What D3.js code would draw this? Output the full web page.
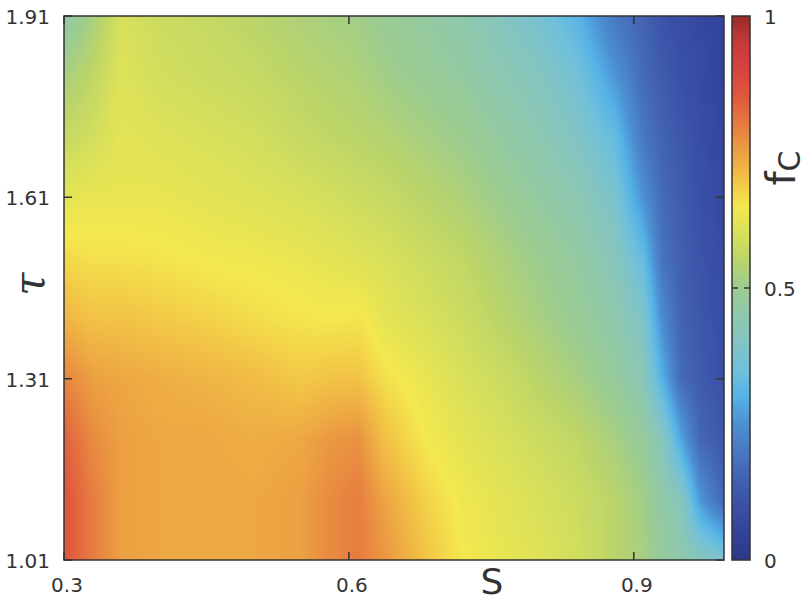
<!DOCTYPE html>
<html>
<head>
<meta charset="utf-8">
<script src="https://cdn.jsdelivr.net/npm/d3@7"></script>
<style>
  body { margin: 0; background: #fff; }
  text { font-family: "DejaVu Sans", sans-serif; fill: #333; }
</style>
</head>
<body>
<div id="chart"></div>
<script>
/* Data
============================================= */
const sValues = [0.30, 0.33, 0.36, 0.40, 0.45, 0.50, 0.55, 0.58, 0.61, 0.64, 0.68,
                 0.72, 0.76, 0.80, 0.84, 0.88, 0.91, 0.93, 0.95, 0.97, 0.995];
const tauValues = [1.01, 1.11, 1.21, 1.31, 1.41, 1.51, 1.61, 1.71, 1.81, 1.91];

// f_C for each tau row, one value per S column
const fcTau101 = [0.86, 0.80, 0.75, 0.74, 0.74, 0.74, 0.75, 0.78, 0.80, 0.76, 0.70, 0.65, 0.63, 0.61, 0.59, 0.55, 0.52, 0.48, 0.45, 0.42, 0.38];
const fcTau111 = [0.86, 0.80, 0.75, 0.74, 0.74, 0.74, 0.75, 0.78, 0.80, 0.74, 0.68, 0.64, 0.62, 0.60, 0.58, 0.55, 0.51, 0.46, 0.42, 0.26, 0.16];
const fcTau121 = [0.84, 0.78, 0.75, 0.74, 0.74, 0.73, 0.74, 0.76, 0.77, 0.70, 0.65, 0.62, 0.60, 0.58, 0.56, 0.52, 0.48, 0.42, 0.28, 0.16, 0.12];
const fcTau131 = [0.79, 0.75, 0.74, 0.73, 0.72, 0.71, 0.69, 0.70, 0.70, 0.66, 0.63, 0.60, 0.58, 0.55, 0.52, 0.48, 0.43, 0.30, 0.17, 0.13, 0.10];
const fcTau141 = [0.72, 0.70, 0.70, 0.69, 0.68, 0.665, 0.655, 0.65, 0.655, 0.62, 0.60, 0.58, 0.55, 0.52, 0.49, 0.45, 0.39, 0.24, 0.15, 0.12, 0.09];
const fcTau151 = [0.67, 0.66, 0.66, 0.655, 0.645, 0.64, 0.63, 0.62, 0.61, 0.60, 0.58, 0.56, 0.53, 0.50, 0.47, 0.42, 0.33, 0.19, 0.14, 0.11, 0.08];
const fcTau161 = [0.62, 0.63, 0.63, 0.63, 0.62, 0.61, 0.60, 0.59, 0.58, 0.57, 0.55, 0.53, 0.50, 0.47, 0.44, 0.38, 0.25, 0.17, 0.13, 0.10, 0.07];
const fcTau171 = [0.57, 0.59, 0.62, 0.61, 0.60, 0.59, 0.57, 0.56, 0.55, 0.54, 0.52, 0.50, 0.47, 0.44, 0.40, 0.33, 0.20, 0.15, 0.12, 0.09, 0.06];
const fcTau181 = [0.52, 0.56, 0.61, 0.59, 0.58, 0.57, 0.55, 0.54, 0.53, 0.51, 0.49, 0.47, 0.44, 0.41, 0.36, 0.26, 0.17, 0.13, 0.10, 0.08, 0.05];
const fcTau191 = [0.46, 0.52, 0.60, 0.58, 0.57, 0.55, 0.53, 0.52, 0.51, 0.49, 0.47, 0.45, 0.41, 0.37, 0.31, 0.20, 0.15, 0.11, 0.09, 0.07, 0.05];

const fcRows = [fcTau101, fcTau111, fcTau121, fcTau131, fcTau141,
                fcTau151, fcTau161, fcTau171, fcTau181, fcTau191];

const sTicks = [0.3, 0.6, 0.9];
const tauTicks = [1.01, 1.31, 1.61, 1.91];
const fcTicks = [0, 0.5, 1];

// palette stops (value -> colour)
const paletteStops = [0, 0.05, 0.1, 0.15, 0.2, 0.25, 0.3, 0.35, 0.4, 0.45, 0.5,
                      0.55, 0.6, 0.65, 0.7, 0.75, 0.8, 0.85, 0.9, 0.95, 1];
const paletteColors = ["#2c3888", "#33429a", "#3a50a6", "#4262b2", "#4878c2", "#4c90d2",
                       "#55b2e6", "#70c0da", "#82c4c4", "#8ec8ac", "#9ccc90", "#bad46a",
                       "#d8e05a", "#f4e84e", "#f2c246", "#eca042", "#e67c40", "#e0583e",
                       "#d84440", "#c63a3a", "#9a2a2a"];

/* Layout
============================================= */
const SVG_WIDTH = 808;
const SVG_HEIGHT = 604;
const margin = { top: 16, left: 64, bottom: 44, right: 84 };
const width = SVG_WIDTH - margin.left - margin.right;   // 660
const height = SVG_HEIGHT - margin.top - margin.bottom;  // 544
const cbarX = 732, cbarW = 18;

var xScale = d3.scaleLinear().domain([0.3, 0.995]).range([margin.left, margin.left + width]);
var yScale = d3.scaleLinear().domain([1.01, 1.91]).range([margin.top + height, margin.top]);
var cScale = d3.scaleLinear().domain([0, 1]).range([margin.top + height, margin.top]);
var color = d3.scaleLinear().domain(paletteStops).range(paletteColors).clamp(true);

var svg = d3.select("#chart")
    .append("svg")
    .attr("width", SVG_WIDTH)
    .attr("height", SVG_HEIGHT);

/* Heatmap (bilinear shading between grid nodes)
============================================= */
function bracket(arr, v) {
    var i = d3.bisectRight(arr, v) - 1;
    i = Math.max(0, Math.min(arr.length - 2, i));
    var t = (v - arr[i]) / (arr[i + 1] - arr[i]);
    return [i, Math.max(0, Math.min(1, t))];
}

var lut = d3.range(1001).map(function(k) { return d3.rgb(color(k / 1000)); });

var canvas = document.createElement("canvas");
canvas.width = width;
canvas.height = height;
var ctx = canvas.getContext("2d");
var img = ctx.createImageData(width, height);

for (var py = 0; py < height; py++) {
    var by = bracket(tauValues, yScale.invert(margin.top + py + 0.5));
    var r0 = fcRows[by[0]], r1 = fcRows[by[0] + 1];
    for (var px = 0; px < width; px++) {
        var bx = bracket(sValues, xScale.invert(margin.left + px + 0.5));
        var i = bx[0], tx = bx[1], ty = by[1];
        var v0 = r0[i] * (1 - tx) + r0[i + 1] * tx;
        var v1 = r1[i] * (1 - tx) + r1[i + 1] * tx;
        var v = v0 * (1 - ty) + v1 * ty;
        var c = lut[Math.round(Math.max(0, Math.min(1, v)) * 1000)];
        var o = (py * width + px) * 4;
        img.data[o] = c.r; img.data[o + 1] = c.g; img.data[o + 2] = c.b; img.data[o + 3] = 255;
    }
}
ctx.putImageData(img, 0, 0);

svg.append("image")
    .attr("x", xScale(0.3))
    .attr("y", yScale(1.91))
    .attr("width", xScale(0.995) - xScale(0.3))
    .attr("height", yScale(1.01) - yScale(1.91))
    .attr("preserveAspectRatio", "none")
    .attr("href", canvas.toDataURL());

/* Frame, ticks, labels
============================================= */
var frame = svg.append("g");

frame.append("rect")
    .attr("x", margin.left)
    .attr("y", margin.top)
    .attr("width", width)
    .attr("height", height)
    .attr("fill", "none")
    .attr("stroke", "#333")
    .attr("stroke-width", 1.5);

// inner ticks on all four sides
frame.selectAll(".xtick")
    .data(sTicks)
    .enter()
    .append("path")
    .attr("d", function(d) {
        var x = xScale(d);
        return `M${x},${margin.top + height}v-8M${x},${margin.top}v8`;
    })
    .attr("stroke", "#333")
    .attr("stroke-width", 1.5);

frame.selectAll(".ytick")
    .data(tauTicks)
    .enter()
    .append("path")
    .attr("d", function(d) {
        var y = yScale(d);
        return `M${margin.left},${y}h8M${margin.left + width},${y}h-8`;
    })
    .attr("stroke", "#333")
    .attr("stroke-width", 1.5);

frame.selectAll(".xlabel")
    .data(sTicks)
    .enter()
    .append("text")
    .attr("x", function(d) { return xScale(d) + 3; })
    .attr("y", margin.top + height + 32)
    .attr("text-anchor", "middle")
    .attr("font-size", 20)
    .text(function(d) { return d3.format(".1f")(d); });

frame.selectAll(".ylabel")
    .data(tauTicks)
    .enter()
    .append("text")
    .attr("x", margin.left - 14)
    .attr("y", function(d) { return yScale(d) + 8; })
    .attr("text-anchor", "end")
    .attr("font-size", 20)
    .text(function(d) { return d3.format(".2f")(d); });

svg.append("text")
    .attr("x", 492)
    .attr("y", 594)
    .attr("text-anchor", "middle")
    .attr("font-size", 36)
    .text("S");

svg.append("text")
    .attr("transform", "translate(44, 284) rotate(-90)")
    .attr("text-anchor", "middle")
    .attr("font-size", 42)
    .attr("font-style", "italic")
    .style("font-family", "'DejaVu Serif', serif")
    .text("τ");

/* Colour bar
============================================= */
var grad = svg.append("defs")
    .append("linearGradient")
    .attr("id", "cbar")
    .attr("x1", 0).attr("y1", 1)
    .attr("x2", 0).attr("y2", 0);

grad.selectAll("stop")
    .data(d3.range(0, 1.0001, 0.01))
    .enter()
    .append("stop")
    .attr("offset", function(d) { return d; })
    .attr("stop-color", function(d) { return color(d); });

svg.append("rect")
    .attr("x", cbarX)
    .attr("y", cScale(1))
    .attr("width", cbarW)
    .attr("height", cScale(0) - cScale(1))
    .attr("fill", "url(#cbar)")
    .attr("stroke", "#333")
    .attr("stroke-width", 1.5);

svg.append("path")
    .attr("d", `M${cbarX},${cScale(0.5)}h6M${cbarX + cbarW},${cScale(0.5)}h-6`)
    .attr("stroke", "#333")
    .attr("stroke-width", 1.5);

svg.selectAll(".clabel")
    .data(fcTicks)
    .enter()
    .append("text")
    .attr("x", 764)
    .attr("y", function(d) { return cScale(d) + 8; })
    .attr("font-size", 20)
    .text(function(d) { return d; });

var fLabel = svg.append("text")
    .attr("transform", "translate(795, 168) rotate(-90)")
    .attr("text-anchor", "middle")
    .attr("font-size", 40);
fLabel.append("tspan").text("f");
fLabel.append("tspan").attr("font-size", 30).attr("dy", 5).text("C");
</script>
</body>
</html>
